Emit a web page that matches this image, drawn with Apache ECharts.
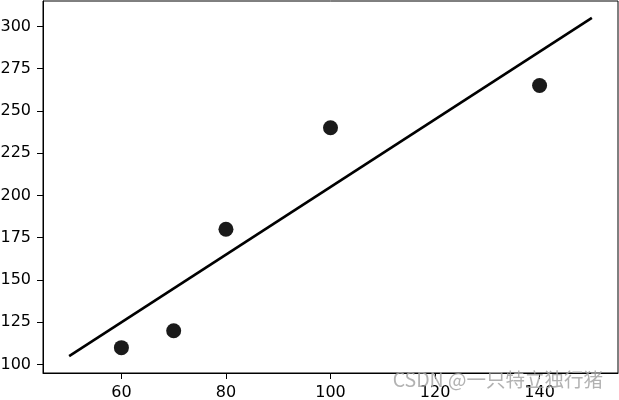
<!DOCTYPE html>
<html><head><meta charset="utf-8">
<script src="https://cdn.jsdelivr.net/npm/echarts@6/dist/echarts.min.js"></script>
<style>html,body{margin:0;padding:0;background:#fff}#c{width:619px;height:400px}</style>
</head><body><div id="c"></div>
<script>
const xValues = [60, 70, 80, 100, 140];
const yValues = [110, 120, 180, 240, 265];
const lineX = [50, 150];
const lineY = [105, 305];
const xTicks = [60, 80, 100, 120, 140];
const yTicks = [100, 125, 150, 175, 200, 225, 250, 275, 300];
const watermark = 'CSDN @一只特立独行猪';

const chart = echarts.init(document.getElementById('c'), null, {renderer: 'canvas'});
const font = 'DejaVu Sans';
chart.setOption({
  animation: false,
  backgroundColor: '#fff',
  grid: {left: 43, right: 1, top: 1, bottom: 27, show: true, borderColor: '#000', borderWidth: 1,
         backgroundColor: 'transparent', containLabel: false, outerBoundsMode: 'none'},
  xAxis: {
    type: 'value', min: 45, max: 155,
    axisLine: {show: true, onZero: false, lineStyle: {color: '#000', width: 1}},
    axisTick: {show: true, length: 6, lineStyle: {color: '#000'}, customValues: xTicks},
    axisLabel: {color: '#000', fontFamily: font, fontSize: 16, margin: 12, customValues: xTicks},
    splitLine: {show: false}
  },
  yAxis: {
    type: 'value', min: 95, max: 315,
    axisLine: {show: true, onZero: false, lineStyle: {color: '#000', width: 1}},
    axisTick: {show: true, length: 6, lineStyle: {color: '#000'}, customValues: yTicks},
    axisLabel: {color: '#000', fontFamily: font, fontSize: 16, margin: 12, customValues: yTicks},
    splitLine: {show: false}
  },
  series: [
    {type: 'line', data: lineX.map((x, i) => [x, lineY[i]]), symbol: 'none',
     lineStyle: {color: '#000', width: 2.6}},
    {type: 'scatter', data: xValues.map((x, i) => [x, yValues[i]]), symbolSize: 15,
     itemStyle: {color: '#1a1a1a', opacity: 1}}
  ],
  graphic: [{
    type: 'text', right: 16, top: 370, z: 100,
    style: {text: watermark, fontFamily: 'Noto Sans CJK SC', fontSize: 19.5, fill: 'rgba(165,165,165,0.85)'}
  }]
});
</script></body></html>
